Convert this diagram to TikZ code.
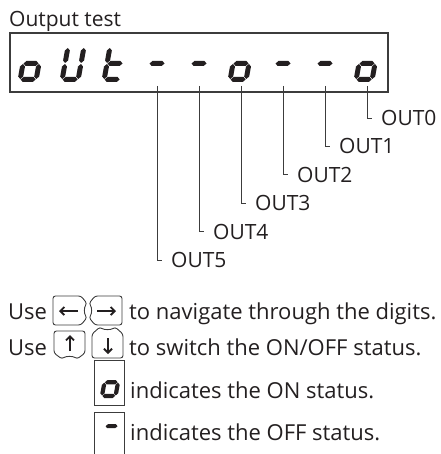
\documentclass[tikz,border=0pt]{standalone}
\usepackage{fontspec}
\setmainfont{Open Sans}
\usetikzlibrary{arrows.meta}
\definecolor{ink}{HTML}{231F20}
\definecolor{frame}{HTML}{3C3C3C}
% 7-segment helpers (local units: 1pt, y up), width 21, height 37, thickness 5
\newcommand\segH[1]{\fill[ink] (3.0,#1) -- (5.5,#1+2.5) -- (15.5,#1+2.5) -- (18.0,#1) -- (15.5,#1-2.5) -- (5.5,#1-2.5) -- cycle;}
\newcommand\segV[3]{\fill[ink] (#1,#2) -- (#1+2.5,#2+2.5) -- (#1+2.5,#3-2.5) -- (#1,#3) -- (#1-2.5,#3-2.5) -- (#1-2.5,#2+2.5) -- cycle;}
\newcommand\sgA{\segH{34.5}}
\newcommand\sgD{\segH{2.5}}
\newcommand\sgG{\segH{18.5}}
\newcommand\sgE{\segV{2.5}{3.0}{18.0}}
\newcommand\sgF{\segV{2.5}{19.0}{34.0}}
\newcommand\sgC{\segV{18.5}{3.0}{18.0}}
\newcommand\sgB{\segV{18.5}{19.0}{34.0}}
\newcommand\sevdigit[4]{\begin{scope}[shift={(#1,#2)}, y=1pt, xslant=0.18, scale=#3]#4\end{scope}}
\begin{document}
\begin{tikzpicture}[x=1pt,y=-1pt,
  txt/.style={font=\fontsize{21}{25}\selectfont, text=ink, inner sep=0pt},
  btxt/.style={font=\fontsize{22}{26}\selectfont, text=ink, inner sep=0pt},
  lead/.style={draw=frame, line width=0.9pt},
  keybox/.style={draw=frame, line width=0.9pt, rounded corners=2.5pt},
  arr/.style={draw=ink, line width=1.9pt, -{Straight Barb[length=4pt,width=8pt,line width=1.9pt]}},
  iconbox/.style={draw=frame, line width=0.9pt}]
\useasboundingbox (0,0) rectangle (440,454);
% title and display
\node[txt, anchor=base west] (title) at (9,27) {Output test};
\draw[frame, line width=1.1pt] (10,33) rectangle (388,92);
\foreach \n/\segs in {0/{\sgC\sgD\sgE\sgG},1/{\sgB\sgC\sgD\sgE\sgF},2/{\sgD\sgE\sgF\sgG},3/{\sgG},4/{\sgG},5/{\sgC\sgD\sgE\sgG},6/{\sgG},7/{\sgG},8/{\sgC\sgD\sgE\sgG}}
  \sevdigit{17.2+42*\n}{82}{1}{\segs}
% lead tops
\foreach \k/\x in {0/367,1/325,2/283,3/241,4/199,5/157}
  \coordinate (t\k) at (\x,86);
% labels
\foreach \k/\x/\y in {0/381/118,1/339/146.4,2/297/174.8,3/255/203.2,4/213/231.6,5/171/260}
  \node[txt, anchor=west] (o\k) at (\x,\y) {OUT\k};
\foreach \k in {0,...,5}
  \draw[lead] (t\k) |- ([xshift=-9pt]o\k.west);
% line 1
\node[btxt, anchor=base west] (use1) at (8,319) {Use};
\draw[keybox] (53,325) -- (53,296) -- (81,296) -- (87,303.5) .. controls (84,307.5) and (84,313.5) .. (87,317.5) -- (81,325) -- cycle;
\draw[keybox] (122,325) -- (122,296) -- (95,296) -- (89,303.5) .. controls (92,307.5) and (92,313.5) .. (89,317.5) -- (95,325) -- cycle;
\coordinate (la) at (78,311); \coordinate (lb) at (59,311);
\draw[arr] (la) -- (lb);
\coordinate (ra) at (97,311); \coordinate (rb) at (116,311);
\draw[arr] (ra) -- (rb);
\node[btxt, anchor=base west] (line1) at (129,319) {to navigate through the digits.};
% line 2
\node[btxt, anchor=base west] (use2) at (8,355) {Use};
\draw[keybox] (54,353) -- (54,331) -- (85,331) -- (85,353) -- (77,359) .. controls (73,356) and (66,356) .. (62,359) -- cycle;
\draw[keybox] (92,334) -- (92,358) -- (123,358) -- (123,334) -- (115,327) .. controls (111,330) and (104,330) .. (100,327) -- cycle;
\coordinate (ua) at (70,351); \coordinate (ub) at (70,335);
\draw[arr] (ua) -- (ub);
\coordinate (da) at (108,338); \coordinate (db) at (108,354);
\draw[arr] (da) -- (db);
\node[btxt, anchor=base west] (line2) at (129,355) {to switch the ON/OFF status.};
% line 3
\draw[iconbox] (94,360) rectangle (124,405);
\sevdigit{99.5}{398}{0.85}{\sgC\sgD\sgE\sgG}
\node[btxt, anchor=base west] (line3) at (130,398) {indicates the ON status.};
% line 4
\draw[iconbox] (94,456) -- (94,412) -- (124,412) -- (124,456);
\sevdigit{100.5}{441}{0.8}{\sgG}
\node[btxt, anchor=base west] (line4) at (130,440) {indicates the OFF status.};
\end{tikzpicture}
\end{document}
